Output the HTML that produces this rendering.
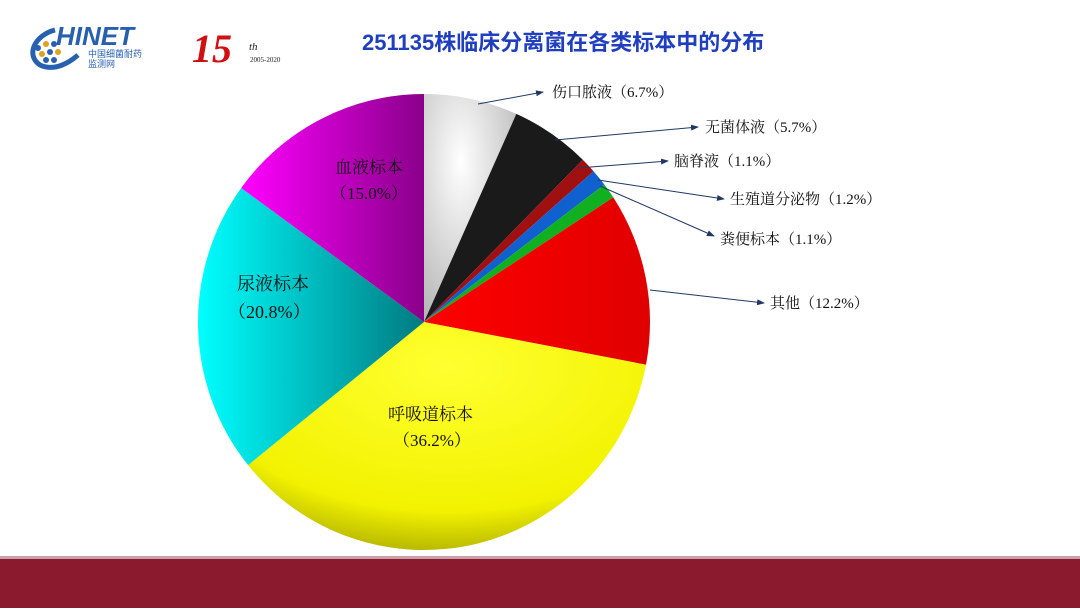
<!DOCTYPE html>
<html><head><meta charset="utf-8"><style>
body{margin:0;width:1080px;height:608px;background:#fff;overflow:hidden;font-family:"Liberation Sans","Noto Sans CJK SC",sans-serif}
</style></head><body>
<svg width="1080" height="608" viewBox="0 0 1080 608" xmlns="http://www.w3.org/2000/svg">
<defs>
<radialGradient id="gw" cx="0.4" cy="0.3" r="0.9"><stop offset="0" stop-color="#fff"/><stop offset="1" stop-color="#aaa"/></radialGradient>
<radialGradient id="gy" cx="0.5" cy="0.2" r="0.9"><stop offset="0" stop-color="#ffff30"/><stop offset="0.7" stop-color="#f2f200"/><stop offset="1" stop-color="#9a9a00"/></radialGradient>
<linearGradient id="gc" x1="0" y1="0" x2="1" y2="0"><stop offset="0" stop-color="#00ffff"/><stop offset="1" stop-color="#007a80"/></linearGradient>
<linearGradient id="gm" x1="0" y1="0" x2="1" y2="0"><stop offset="0" stop-color="#ff00ff"/><stop offset="1" stop-color="#8a008a"/></linearGradient>
<linearGradient id="gr" x1="0" y1="0" x2="1" y2="0"><stop offset="0" stop-color="#ff0000"/><stop offset="1" stop-color="#e00000"/></linearGradient>
<marker id="ar" markerWidth="8" markerHeight="6" refX="7" refY="3" orient="auto"><path d="M0,0L8,3L0,6z" fill="#1f3864"/></marker>
</defs>
<g id="pie"></g>
<!-- logo -->
<path d="M55,30 C35,35 25,55 40,65 C55,72 70,62 78,55" fill="none" stroke="#2860b0" stroke-width="5"/>
<g fill="#2860b0"><circle cx="38" cy="48" r="3"/><circle cx="46" cy="44" r="3" fill="#e0a020"/><circle cx="54" cy="44" r="3"/><circle cx="42" cy="54" r="3" fill="#e0a020"/><circle cx="50" cy="52" r="3"/><circle cx="58" cy="52" r="3" fill="#e0a020"/><circle cx="46" cy="60" r="3"/><circle cx="54" cy="60" r="3"/></g>
<text x="56" y="45" font-size="26" font-weight="bold" font-style="italic" fill="#2860b0">HINET</text>
<text x="88" y="57" font-size="9" fill="#2860b0">中国细菌耐药</text>
<text x="88" y="67" font-size="9" fill="#2860b0">监测网</text>
<text x="192" y="62" font-size="40" font-weight="bold" font-style="italic" fill="#d01010" font-family="Liberation Serif,serif">15</text>
<text x="249" y="50" font-size="11" font-style="italic" fill="#222" font-family="Liberation Serif,serif">th</text>
<text x="250" y="62" font-size="7" fill="#222" font-family="Liberation Serif,serif">2005-2020</text>
<text x="362" y="50" font-size="22" font-weight="bold" fill="#1f3fbf">251135株临床分离菌在各类标本中的分布</text>
<!-- labels -->
<g fill="#111" font-size="15" font-family="'Liberation Serif','Noto Serif CJK SC',serif">
<text x="335" y="173" font-size="17">血液标本</text><text x="330" y="199" font-size="17">（15.0%）</text>
<text x="237" y="290" font-size="18">尿液标本</text><text x="228" y="318" font-size="18">（20.8%）</text>
<text x="388" y="420" font-size="17">呼吸道标本</text><text x="393" y="446" font-size="17">（36.2%）</text>
<text x="552" y="97">伤口脓液（6.7%）</text>
<text x="705" y="132">无菌体液（5.7%）</text>
<text x="674" y="166">脑脊液（1.1%）</text>
<text x="730" y="204">生殖道分泌物（1.2%）</text>
<text x="720" y="244">粪便标本（1.1%）</text>
<text x="770" y="308">其他（12.2%）</text>
</g>
<g stroke="#1f3864" stroke-width="1" marker-end="url(#ar)">
<line x1="478" y1="104" x2="543" y2="92"/>
<line x1="555" y1="140" x2="698" y2="127"/>
<line x1="578" y1="168" x2="668" y2="161"/>
<line x1="598" y1="180" x2="724" y2="199"/>
<line x1="600" y1="186" x2="714" y2="236"/>
<line x1="650" y1="290" x2="764" y2="303"/>
</g>
<rect x="0" y="556" width="1080" height="3" fill="#c9a0a8"/>
<rect x="0" y="559" width="1080" height="49" fill="#8b1a2e"/>
</svg>
<script>
var cx=424,cy=322,rx=226,ry=228;
var d=[[6.7,'url(#gw)'],[5.7,'#1a1a1a'],[1.1,'#a01010'],[1.2,'#1060d0'],[1.1,'#10b020'],[12.2,'url(#gr)'],[36.2,'url(#gy)'],[20.8,'url(#gc)'],[15.0,'url(#gm)']];
var a=-Math.PI/2,g=document.getElementById('pie'),h='';
d.forEach(function(s){var b=a+s[0]/100*2*Math.PI;
var x1=cx+rx*Math.cos(a),y1=cy+ry*Math.sin(a),x2=cx+rx*Math.cos(b),y2=cy+ry*Math.sin(b);
h+='<path d="M'+cx+','+cy+'L'+x1+','+y1+'A'+rx+','+ry+' 0 '+((b-a)>Math.PI?1:0)+' 1 '+x2+','+y2+'Z" fill="'+s[1]+'"/>';a=b;});
g.innerHTML=h;
</script>
</body></html>
